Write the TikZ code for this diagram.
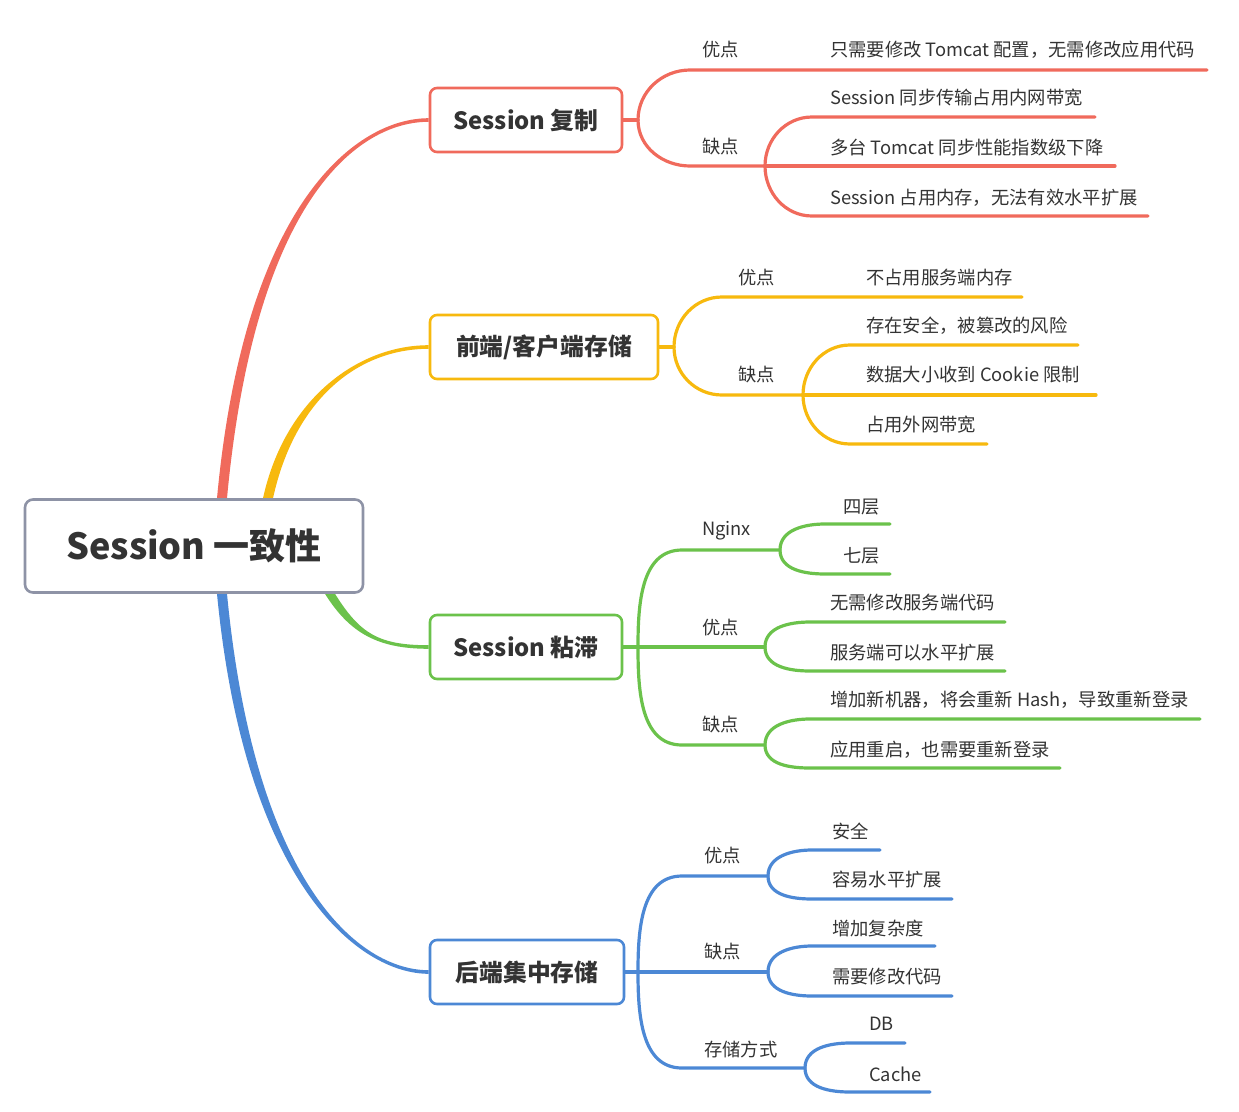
\documentclass[tikz,border=0pt]{standalone}
\usepackage{fontspec}
\setmainfont{Noto Sans CJK SC}
\usetikzlibrary{backgrounds,calc}
\definecolor{cred}{HTML}{F06A5C}
\definecolor{cyel}{HTML}{F7B90E}
\definecolor{cgrn}{HTML}{6BC24B}
\definecolor{cblu}{HTML}{4C88D5}
\definecolor{cgray}{HTML}{8E93A6}
\definecolor{ctext}{HTML}{333333}
\tikzset{
  rootbox/.style={draw=cgray,line width=2.6pt,rounded corners=8pt,fill=white,
    minimum width=338pt,minimum height=93pt,inner sep=0pt,text=ctext,
    font=\fontsize{36}{42}\selectfont\bfseries},
  topicbox/.style={line width=2.6pt,rounded corners=7pt,fill=white,
    minimum height=64pt,inner sep=0pt,text=ctext,
    font=\fontsize{23.8}{28}\selectfont\bfseries},
  lbl/.style={anchor=west,inner sep=0pt,text=ctext,font=\fontsize{18.3}{22}\selectfont},
  subline/.style={line width=3.2pt,line cap=round},
}
\begin{document}
\begin{tikzpicture}[x=1pt,y=1pt]
\useasboundingbox (0,0) rectangle (1239,-1111);
% root and topics
\node[rootbox] (root) at (194,-546) {Session 一致性};
\node[topicbox,draw=cred,minimum width=192pt] (rep) at (526,-120) {Session 复制};
\node[topicbox,draw=cyel,minimum width=228pt] (front) at (544,-347) {前端/客户端存储};
\node[topicbox,draw=cgrn,minimum width=192pt] (sticky) at (526,-647) {Session 粘滞};
\node[topicbox,draw=cblu,minimum width=194pt] (back) at (527,-972) {后端集中存储};
\begin{pgfonlayer}{background}
% tapered main connectors
\fill[cred] ([xshift=23pt]root.north) .. controls +(28,300) and +(-70,0) .. ([yshift=1.8pt]rep.west)
  -- ([yshift=-1.8pt]rep.west) .. controls +(-70,0) and +(28,300) .. ([xshift=33pt]root.north) -- cycle;
\fill[cyel] ([xshift=69pt]root.north) .. controls +(22,100) and +(-70,0) .. ([yshift=1.8pt]front.west)
  -- ([yshift=-1.8pt]front.west) .. controls +(-70,0) and +(22,100) .. ([xshift=79pt]root.north) -- cycle;
\fill[cgrn] ([xshift=131pt]root.south) .. controls +(25,-40) and +(-50,0) .. ([yshift=-1.8pt]sticky.west)
  -- ([yshift=1.8pt]sticky.west) .. controls +(-50,0) and +(25,-40) .. ([xshift=141pt]root.south) -- cycle;
\fill[cblu] ([xshift=23pt]root.south) .. controls +(28,-290) and +(-70,0) .. ([yshift=-1.8pt]back.west)
  -- ([yshift=1.8pt]back.west) .. controls +(-70,0) and +(28,-290) .. ([xshift=33pt]root.south) -- cycle;
\end{pgfonlayer}

% ---------- red: Session 复制 ----------
\coordinate (rf) at (638,-120);
\coordinate (rf2) at (765,-166);
\coordinate (rA) at (1207,-70);
\coordinate (rB1) at (1095,-117);
\coordinate (rB2) at (1115,-166);
\coordinate (rB3) at (1148,-216);
\begin{scope}[subline,cred]
\draw (rep.east) -- (rf);
\draw (rf) to[out=90,in=180] (690,-70) -- (rA);
\draw (rf) to[out=-90,in=180] (690,-166) -- (rf2);
\draw (rf2) to[out=90,in=180] (812,-117) -- (rB1);
\draw (rf2) -- (rB2);
\draw (rf2) to[out=-90,in=180] (812,-216) -- (rB3);
\end{scope}
\node[lbl] (rgood) at (702,-50) {优点};
\node[lbl] (rbad) at (702,-147) {缺点};
\node[lbl] (rg1) at (830,-50) {只需要修改 Tomcat 配置，无需修改应用代码};
\node[lbl] (rb1) at (830,-98) {Session 同步传输占用内网带宽};
\node[lbl] (rb2) at (830,-148) {多台 Tomcat 同步性能指数级下降};
\node[lbl] (rb3) at (830,-198) {Session 占用内存，无法有效水平扩展};

% ---------- yellow: 前端/客户端存储 ----------
\coordinate (yf) at (674,-347);
\coordinate (yf2) at (803,-395);
\coordinate (yA) at (1022,-297);
\coordinate (yB1) at (1078,-345);
\coordinate (yB2) at (1096,-395);
\coordinate (yB3) at (987,-444);
\begin{scope}[subline,cyel]
\draw (front.east) -- (yf);
\draw (yf) to[out=90,in=180] (722,-297) -- (yA);
\draw (yf) to[out=-90,in=180] (722,-395) -- (yf2);
\draw (yf2) to[out=90,in=180] (850,-345) -- (yB1);
\draw (yf2) -- (yB2);
\draw (yf2) to[out=-90,in=180] (850,-444) -- (yB3);
\end{scope}
\node[lbl] (ygood) at (738,-278) {优点};
\node[lbl] (ybad) at (738,-375) {缺点};
\node[lbl] (yg1) at (866,-278) {不占用服务端内存};
\node[lbl] (yb1) at (866,-326) {存在安全，被篡改的风险};
\node[lbl] (yb2) at (866,-375) {数据大小收到 Cookie 限制};
\node[lbl] (yb3) at (866,-425) {占用外网带宽};

% ---------- green: Session 粘滞 ----------
\coordinate (gf) at (638,-647);
\coordinate (gn) at (780,-550);
\coordinate (gg) at (765,-647);
\coordinate (gb) at (765,-745);
\coordinate (gN1) at (890,-524);
\coordinate (gN2) at (890,-574);
\coordinate (gG1) at (1005,-622);
\coordinate (gG2) at (1005,-671);
\coordinate (gB1) at (1200,-719);
\coordinate (gB2) at (1060,-768);
\begin{scope}[subline,cgrn]
\draw (sticky.east) -- (gf);
\draw (gf) to[out=90,in=180] (682,-550) -- (gn);
\draw (gf) -- (gg);
\draw (gf) to[out=-90,in=180] (682,-745) -- (gb);
\draw (gn) to[out=90,in=180] (825,-524) -- (gN1);
\draw (gn) to[out=-90,in=180] (825,-574) -- (gN2);
\draw (gg) to[out=90,in=180] (810,-622) -- (gG1);
\draw (gg) to[out=-90,in=180] (810,-671) -- (gG2);
\draw (gb) to[out=90,in=180] (810,-719) -- (gB1);
\draw (gb) to[out=-90,in=180] (810,-768) -- (gB2);
\end{scope}
\node[lbl] (gnginx) at (702,-531) {Nginx};
\node[lbl] (ggood) at (702,-628) {优点};
\node[lbl] (gbad) at (702,-725) {缺点};
\node[lbl] (gn1) at (843,-507) {四层};
\node[lbl] (gn2) at (843,-556) {七层};
\node[lbl] (gg1) at (830,-603) {无需修改服务端代码};
\node[lbl] (gg2) at (830,-653) {服务端可以水平扩展};
\node[lbl] (gb1) at (830,-700) {增加新机器，将会重新 Hash，导致重新登录};
\node[lbl] (gb2) at (830,-750) {应用重启，也需要重新登录};

% ---------- blue: 后端集中存储 ----------
\coordinate (bf) at (638,-972);
\coordinate (bg) at (768,-876);
\coordinate (bb) at (768,-972);
\coordinate (bs) at (805,-1068);
\coordinate (bG1) at (880,-850);
\coordinate (bG2) at (952,-899);
\coordinate (bB1) at (935,-946);
\coordinate (bB2) at (952,-996);
\coordinate (bS1) at (905,-1043);
\coordinate (bS2) at (930,-1092);
\begin{scope}[subline,cblu]
\draw (back.east) -- (bf);
\draw (bf) to[out=90,in=180] (682,-876) -- (bg);
\draw (bf) -- (bb);
\draw (bf) to[out=-90,in=180] (682,-1068) -- (bs);
\draw (bg) to[out=90,in=180] (812,-850) -- (bG1);
\draw (bg) to[out=-90,in=180] (812,-899) -- (bG2);
\draw (bb) to[out=90,in=180] (812,-946) -- (bB1);
\draw (bb) to[out=-90,in=180] (812,-996) -- (bB2);
\draw (bs) to[out=90,in=180] (850,-1043) -- (bS1);
\draw (bs) to[out=-90,in=180] (850,-1092) -- (bS2);
\end{scope}
\node[lbl] (bgood) at (704,-856) {优点};
\node[lbl] (bbad) at (704,-952) {缺点};
\node[lbl] (bstore) at (704,-1049) {存储方式};
\node[lbl] (bg1) at (832,-831) {安全};
\node[lbl] (bg2) at (832,-880) {容易水平扩展};
\node[lbl] (bb1) at (832,-928) {增加复杂度};
\node[lbl] (bb2) at (832,-977) {需要修改代码};
\node[lbl] (bs1) at (869,-1024) {DB};
\node[lbl] (bs2) at (869,-1074) {Cache};
\end{tikzpicture}
\end{document}
